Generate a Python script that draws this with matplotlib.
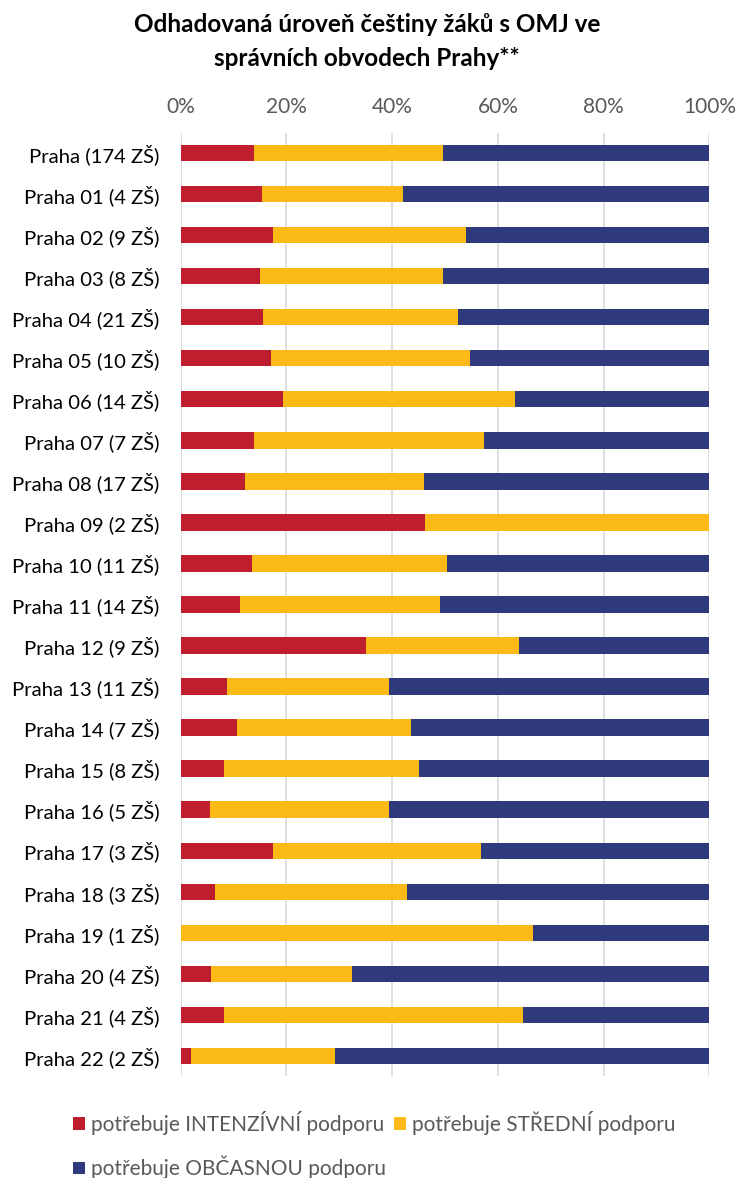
import matplotlib
matplotlib.use('Agg')
import matplotlib.pyplot as plt
import numpy as np

plt.rcParams['font.family'] = ['Lato', 'DejaVu Sans']

# Data (percent of pupils)
districts = ['Praha (174 ZŠ)', 'Praha 01 (4 ZŠ)', 'Praha 02 (9 ZŠ)', 'Praha 03 (8 ZŠ)',
             'Praha 04 (21 ZŠ)', 'Praha 05 (10 ZŠ)', 'Praha 06 (14 ZŠ)', 'Praha 07 (7 ZŠ)',
             'Praha 08 (17 ZŠ)', 'Praha 09 (2 ZŠ)', 'Praha 10 (11 ZŠ)', 'Praha 11 (14 ZŠ)',
             'Praha 12 (9 ZŠ)', 'Praha 13 (11 ZŠ)', 'Praha 14 (7 ZŠ)', 'Praha 15 (8 ZŠ)',
             'Praha 16 (5 ZŠ)', 'Praha 17 (3 ZŠ)', 'Praha 18 (3 ZŠ)', 'Praha 19 (1 ZŠ)',
             'Praha 20 (4 ZŠ)', 'Praha 21 (4 ZŠ)', 'Praha 22 (2 ZŠ)']
intenzivni = [13.9, 15.4, 17.4, 15.1, 15.6, 17.1, 19.4, 13.9, 12.1, 46.2, 13.6, 11.3,
              35.1, 8.8, 10.7, 8.2, 5.6, 17.5, 6.5, 0.0, 5.8, 8.3, 2.0]
stredni = [35.7, 26.6, 36.6, 34.5, 36.9, 37.6, 43.8, 43.5, 33.9, 53.8, 36.8, 37.7,
           28.9, 30.7, 32.8, 36.9, 33.9, 39.4, 36.4, 66.7, 26.6, 56.4, 27.2]
obcasna = [100 - a - b for a, b in zip(intenzivni, stredni)]

labels = ['potřebuje INTENZÍVNÍ podporu', 'potřebuje STŘEDNÍ podporu',
          'potřebuje OBČASNOU podporu']
colors = ['#BE1E2D', '#FBBA16', '#2F3A7C']

fig = plt.figure(figsize=(7.39, 11.78), dpi=100)
ax = fig.add_axes([0.2443, 0.0862, 0.7157, 0.8013])

y = np.arange(len(districts))
left = np.zeros(len(districts))
bars = []
for vals, col, lab in zip([intenzivni, stredni, obcasna], colors, labels):
    b = ax.barh(y, vals, left=left, height=0.4, color=col, label=lab, zorder=3)
    bars.append(b)
    left += np.array(vals)

ax.set_xlim(0, 100)
ax.set_ylim(len(districts) - 0.5, -0.5)
ax.set_yticks(y)
ax.set_yticklabels(districts, fontsize=14.6, color='#000000')
ax.xaxis.tick_top()
ax.set_xticks(np.arange(0, 101, 20))
ax.set_xticklabels([f'{v}%' for v in range(0, 101, 20)], fontsize=15, color='#595959')
ax.tick_params(axis='y', length=0, pad=15)
ax.tick_params(axis='x', length=0, pad=11)
ax.grid(axis='x', color='#D9D9D9', linewidth=1.2, zorder=0)
for s in ax.spines.values():
    s.set_visible(False)

fig.text(0.497, 0.965, 'Odhadovaná úroveň češtiny žáků s OMJ ve\nsprávních obvodech Prahy**',
         ha='center', va='center', fontsize=17.5, fontweight='bold', linespacing=1.6)

# legend: two items on first row, one on second
handles = [bars[0], bars[2], bars[1]]
leg_labels = [labels[0], labels[2], labels[1]]
fig.legend(handles, leg_labels, ncol=2, loc='lower left', bbox_to_anchor=(0.074, -0.017),
           frameon=False, fontsize=15, handlelength=0.55, handleheight=0.55,
           handletextpad=0.3, columnspacing=0.4, labelspacing=1.0, labelcolor='#595959')

fig.savefig('out.png', dpi=100)
